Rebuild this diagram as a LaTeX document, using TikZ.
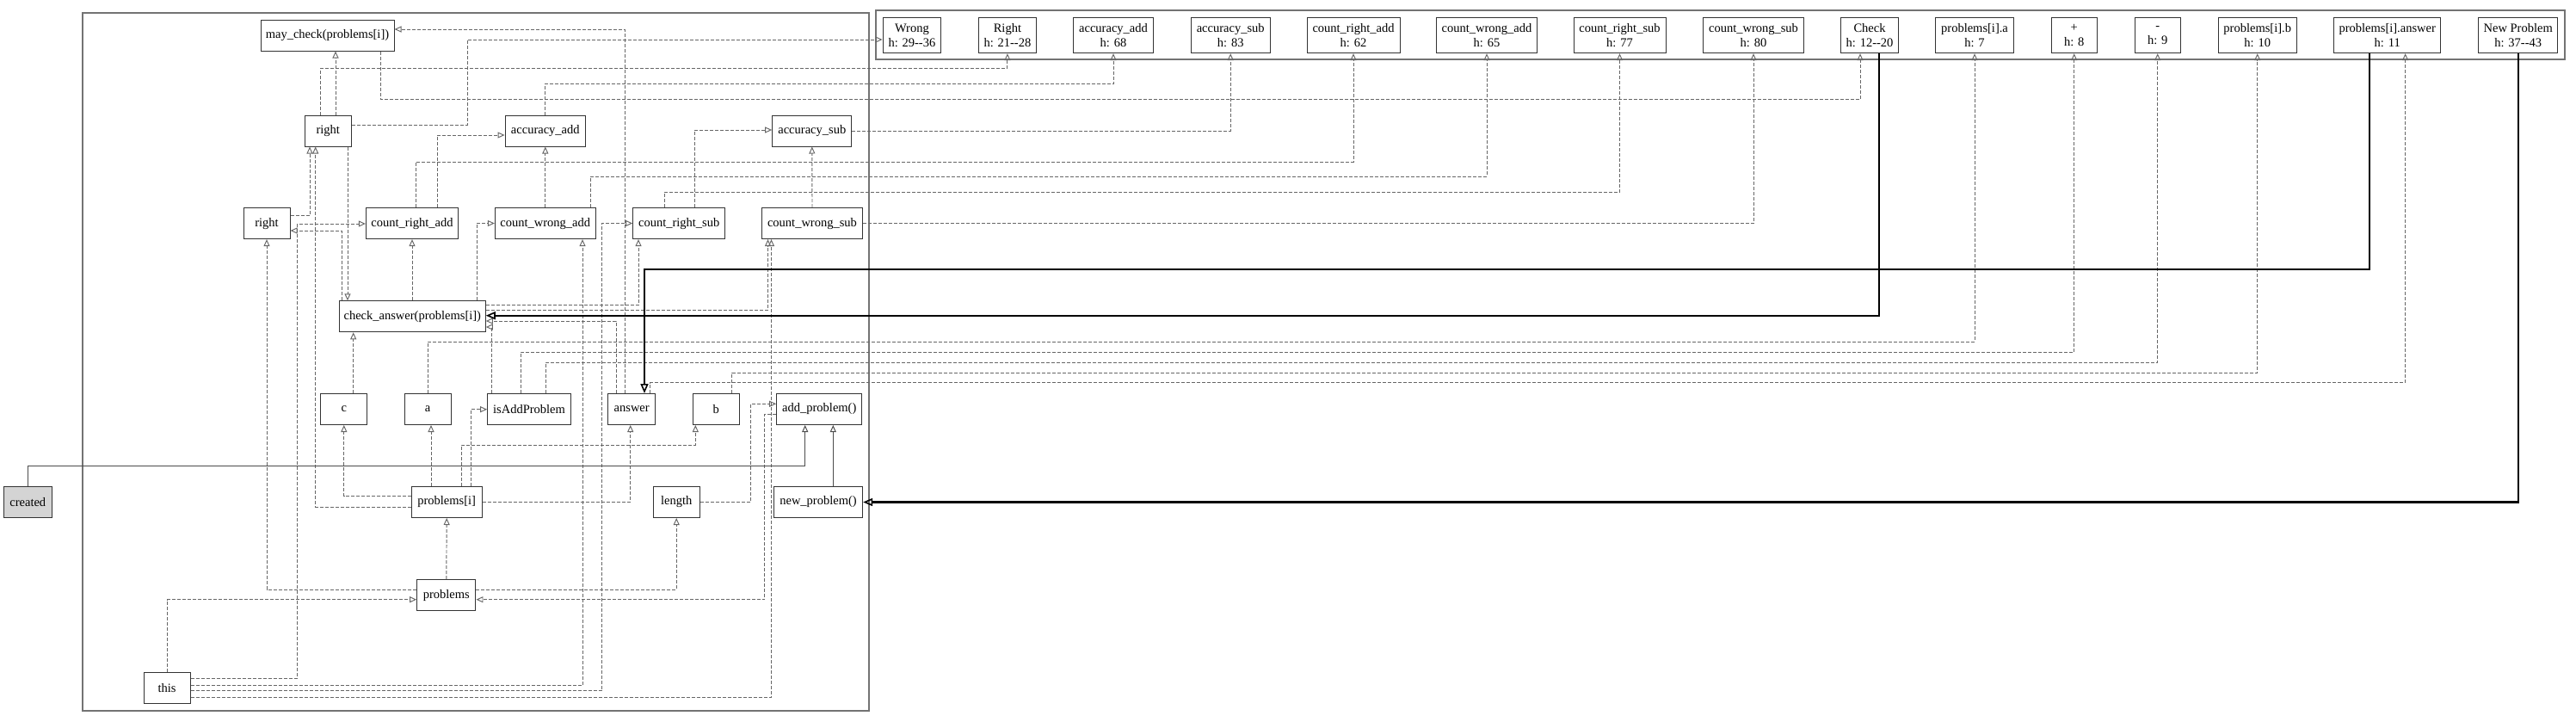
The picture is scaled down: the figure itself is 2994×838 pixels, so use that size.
\documentclass[tikz,border=0pt]{standalone}
\usepackage{fontspec}
\setmainfont{Liberation Serif}
\usetikzlibrary{arrows.meta}
\newcommand\dgfont{\fontsize{14.5pt}{17pt}\selectfont}
\begin{document}
\begin{tikzpicture}[x=1pt,y=-1pt,
  box/.style={draw=black!80, line width=1pt, fill=white, minimum height=36pt, inner sep=0pt, font=\dgfont, anchor=center},
  tbox/.style={box, minimum height=41.4pt, align=center},
  dep/.style={draw=black!60, line width=0.95pt, dash pattern=on 4pt off 2pt, -{Triangle[open,length=8pt,width=7pt]}},
  thk/.style={draw=black, line width=2.2pt, -{Triangle[open,length=11pt,width=9pt,line width=1.6pt]}},
  sol/.style={draw=black!70, line width=1pt, -{Triangle[open,length=8pt,width=7pt]}},
  frame/.style={draw=black!55, line width=1.5pt}]
\useasboundingbox (0,0) rectangle (2994,838);
\draw[frame] (96,15) rectangle (1010,826);
\draw[frame] (1018,12) rectangle (2981,69);
% main cluster nodes
\node[box, minimum width=155pt] (maycheck) at (380.5,41) {may\_check(problems[i])};
\node[box, minimum width=53.5pt] (rightU) at (381.3,152) {right};
\node[box, minimum width=93.5pt] (accadd) at (633.8,152) {accuracy\_add};
\node[box, minimum width=92.3pt] (accsub) at (943.8,152) {accuracy\_sub};
\node[box, minimum width=54pt] (rightL) at (310,259.6) {right};
\node[box, minimum width=107.3pt] (crAdd) at (479,259.6) {count\_right\_add};
\node[box, minimum width=117pt] (cwAdd) at (633.8,259.6) {count\_wrong\_add};
\node[box, minimum width=107pt] (crSub) at (789.2,259.6) {count\_right\_sub};
\node[box, minimum width=116.6pt] (cwSub) at (944,259.6) {count\_wrong\_sub};
\node[box, minimum width=170pt] (check) at (479.3,367.8) {check\_answer(problems[i])};
\node[box, minimum width=54.3pt] (c) at (399.8,475.5) {c};
\node[box, minimum width=54.3pt] (a) at (497.2,475.5) {a};
\node[box, minimum width=96.7pt] (isAdd) at (615,475.5) {isAddProblem};
\node[box, minimum width=55pt] (answer) at (734.2,475.5) {answer};
\node[box, minimum width=54.3pt] (b) at (832.2,475.5) {b};
\node[box, minimum width=99.3pt] (addp) at (952.3,475.5) {add\_problem()};
\node[box, minimum width=56.6pt, fill=black!17] (created) at (32.3,583.5) {created};
\node[box, minimum width=81.7pt] (pi) at (519.2,583.5) {problems[i]};
\node[box, minimum width=54.3pt] (length) at (786.2,583.5) {length};
\node[box, minimum width=103.3pt] (newp) at (951,583.5) {new\_problem()};
\node[box, minimum width=68.3pt] (problems) at (518.8,691.7) {problems};
\node[box, minimum width=54pt] (this) at (194,799.7) {this};
% top cluster nodes
\node[tbox, minimum width=67.7pt] (Wrong) at (1059.9,41) {Wrong\\h: 29-{}-36};
\node[tbox, minimum width=67.7pt] (Right) at (1170.9,41) {Right\\h: 21-{}-28};
\node[tbox, minimum width=93.2pt] (taccadd) at (1294,41) {accuracy\_add\\h: 68};
\node[tbox, minimum width=92.4pt] (taccsub) at (1430.2,41) {accuracy\_sub\\h: 83};
\node[tbox, minimum width=108pt] (tcradd) at (1573,41) {count\_right\_add\\h: 62};
\node[tbox, minimum width=116.8pt] (tcwadd) at (1728,41) {count\_wrong\_add\\h: 65};
\node[tbox, minimum width=107pt] (tcrsub) at (1882.5,41) {count\_right\_sub\\h: 77};
\node[tbox, minimum width=117pt] (tcwsub) at (2038,41) {count\_wrong\_sub\\h: 80};
\node[tbox, minimum width=67.2pt] (nCheck) at (2173,41) {Check\\h: 12-{}-20};
\node[tbox, minimum width=90.5pt] (tpa) at (2295,41) {problems[i].a\\h: 7};
\node[tbox, minimum width=53.4pt] (plus) at (2410.7,41) {+\\h: 8};
\node[tbox, minimum width=53.4pt] (minus) at (2507.7,41) {-\\h: 9};
\node[tbox, minimum width=91.4pt] (tpb) at (2623.7,41) {problems[i].b\\h: 10};
\node[tbox, minimum width=124.3pt] (tpans) at (2774.7,41) {problems[i].answer\\h: 11};
\node[tbox, minimum width=92.5pt] (newprob) at (2926.7,41) {New Problem\\h: 37-{}-43};
% connectors
\draw[dep] (answer.north -| 726,0) |- (maycheck.east |- 0,34);
\draw[dep] (rightU.east |- 0,145) -| (543,46) -- (Wrong.west |- 0,46);
\draw[dep] (rightU.north -| 372,0) |- (Right.south |- 0,79) -- (Right.south);
\draw[dep] (rightU.north -| 390,0) -- (maycheck.south -| 390,0);
\draw[dep] (maycheck.south -| 442,0) |- (2162,115) -- (nCheck.south -| 2162,0);
\draw[dep] (accadd.north -| 633,0) |- (taccadd.south |- 0,97) -- (taccadd.south);
\draw[dep] (crAdd.north -| 508,0) |- (accadd.west |- 0,157);
\draw[dep] (crAdd.north -| 483,0) |- (tcradd.south |- 0,188) -- (tcradd.south);
\draw[dep] (cwAdd.north) -- (accadd.south);
\draw[dep] (cwAdd.north -| 686,0) |- (tcwadd.south |- 0,205) -- (tcwadd.south);
\draw[dep] (crSub.north -| 772,0) |- (tcrsub.south |- 0,223) -- (tcrsub.south);
\draw[dep] (crSub.north -| 807,0) |- (accsub.west |- 0,151);
\draw[dep] (accsub.east) -| (taccsub.south);
\draw[dep] (cwSub.north) -- (accsub.south);
\draw[dep] (cwSub.east) -| (tcwsub.south);
\draw[dep] (rightL.east |- 0,250) -| (rightU.south -| 360,0);
\draw[dep] (pi.west |- 0,589) -| (rightU.south -| 366.7,0);
\draw[dep] (rightU.south -| 404,0) -- (check.north -| 404,0);
\draw[dep] (check.north -| 397,0) |- (rightL.east |- 0,268);
\draw[dep] (this.east |- 0,788) -| (345.7,260) -- (crAdd.west |- 0,260);
\draw[dep] (check.north -| 479,0) -- (crAdd.south -| 479,0);
\draw[dep] (check.north -| 554,0) |- (cwAdd.west |- 0,259.5);
\draw[dep] (this.east |- 0,796) -| (cwAdd.south -| 677,0);
\draw[dep] (this.east |- 0,802.7) -| (699.5,259.5) -- (crSub.west |- 0,259.5);
\draw[dep] (check.east |- 0,354.3) -| (crSub.south -| 742,0);
\draw[dep] (check.east |- 0,360.5) -| (cwSub.south -| 892.5,0);
\draw[dep] (this.east |- 0,810) -| (cwSub.south -| 896.5,0);
\draw[dep] (answer.north -| 716,0) |- (check.east |- 0,373);
\draw[dep] (isAdd.north -| 571,0) |- (check.east |- 0,380);
\draw[dep] (c.north -| 410.7,0) -- (check.south -| 410.7,0);
\draw[dep] (a.north -| 497,0) |- (tpa.south |- 0,397) -- (tpa.south);
\draw[dep] (isAdd.north -| 605,0) |- (plus.south |- 0,409) -- (plus.south);
\draw[dep] (isAdd.north -| 634,0) |- (minus.south |- 0,421) -- (minus.south);
\draw[dep] (b.north -| 850.7,0) |- (tpb.south |- 0,433) -- (tpb.south);
\draw[dep] (answer.north -| 755.7,0) |- (2795.6,444.7) -- (tpans.south -| 2795.6,0);
\draw[dep] (pi.west |- 0,576.7) -| (c.south);
\draw[dep] (pi.north -| 501,0) -- (a.south -| 501,0);
\draw[dep] (pi.north -| 536,0) |- (808.3,517) -- (b.south -| 808.3,0);
\draw[dep] (pi.north -| 547.3,0) |- (isAdd.west |- 0,475.7);
\draw[dep] (pi.east |- 0,583.3) -| (answer.south -| 732.7,0);
\draw[dep] (problems.north) -- (pi.south);
\draw[dep] (problems.west |- 0,685) -| (rightL.south);
\draw[dep] (problems.east |- 0,685) -| (length.south);
\draw[dep] (this.north) |- (problems.west |- 0,696.7);
\draw[dep] (length.east |- 0,583.3) -| (872.7,469.3) -- (addp.west |- 0,469.3);
\draw[dep] (addp.west |- 0,481) -| (888.7,696.7) -- (problems.east |- 0,696.7);
\draw[sol] (created.north) |- (935.7,541) -- (addp.south -| 935.7,0);
\draw[sol] (newp.north -| 968.3,0) -- (addp.south -| 968.3,0);
\draw[thk] (nCheck.south -| 2184,0) |- (check.east |- 0,366.7);
\draw[thk] (tpans.south -| 2754,0) |- (749,313) -- (answer.north -| 749,0);
\draw[thk] (newprob.south) |- (newp.east |- 0,583.5);
\end{tikzpicture}
\end{document}
